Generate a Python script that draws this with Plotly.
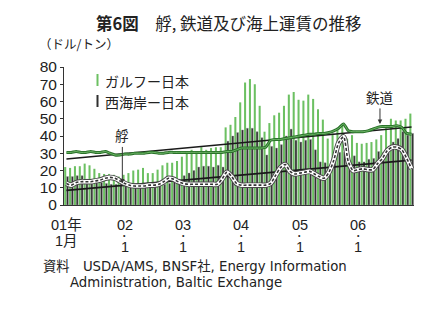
import plotly.graph_objects as go

# Monthly freight rates, Jan 2001 - Dec 2006 (USD/ton)
months = list(range(72))

gulf = [22, 21.5, 22.5, 22.5, 24, 23, 21, 18.5, 18, 18, 17.5, 16.5,
        17.5, 18.5, 20, 20.5, 21.5, 18.5, 18.5, 20.5, 23, 24.5, 24.5, 25.5,
        28, 30, 32, 31, 33.5, 32, 33, 33.5, 33.5, 45, 46.5, 51,
        59.5, 71, 73, 70, 57.5, 42.5, 47.5, 52, 53.5, 57.5, 64, 65.5,
        61, 60.5, 64, 61.5, 55.5, 49.5, 38.5, 41.5, 43.5, 46.5, 38.5, 40.5,
        36, 35.5, 36, 36.5, 38, 40.5, 44.5, 50, 49, 49, 50, 53]

west = [16.5, 16.5, 17, 17, 15, 14, 13.5, 13, 12.5, 12, 12, 12,
        11.5, 11.5, 11.5, 12, 12, 11.5, 11.5, 12, 12, 12.5, 14, 15,
        17, 18.5, 20, 22, 22.5, 22.5, 22, 23, 22, 37, 40, 42,
        43.5, 44.5, 44.5, 42.5, 39, 29, 34, 33, 35, 40, 44, 37.5,
        36.5, 37.5, 38, 32, 25, 24.5, 21.5, 25, 30.5, 30.5, 25, 28.5,
        25, 25, 26.5, 27, 31, 30.5, 32.5, 36.5, 38.5, 42.5, 40.5, 41.5]

rail = [30.5, 30.5, 31, 30.5, 30.5, 31, 30.5, 30.5, 31, 30, 29, 29,
        29.5, 29.5, 30, 30, 30, 30.5, 30.5, 30, 30, 30.5, 30.5, 30.5,
        30.5, 30.5, 30.5, 30.5, 30.5, 30.5, 30.5, 30.5, 30.5, 31, 31, 32,
        33, 33, 33, 33, 33, 33.5, 37.5, 38, 38, 38.5, 39, 39.5,
        40, 40.5, 41, 41, 41.5, 41.5, 42, 43, 44.5, 47, 43, 42.5,
        42.5, 42.5, 43, 44, 45, 45.5, 45.5, 45.5, 46, 45, 41.5, 41]

barge = [12.5, 11.5, 13, 13.5, 13.5, 13.5, 14, 14.5, 15.5, 16, 15.5, 14,
         12.5, 11.5, 11, 11, 11, 11.5, 11.5, 12, 13.5, 15.5, 15, 13.5,
         12.5, 12, 12, 12, 12, 12, 12, 12, 15, 19, 16.5, 12.5,
         11.5, 11.5, 11.5, 11.5, 11.5, 11.5, 12.5, 17, 21.5, 23.5, 19.5, 18,
         18.5, 19, 19.5, 18, 16.5, 15.5, 19, 26, 36, 39.5, 25, 20,
         20.5, 21, 20.5, 20.5, 24, 27, 31.5, 33.5, 33.5, 32, 27, 21]

# Linear trends (start / end of the period)
trend_x = [0, 71]
rail_trend = [26.7, 45.2]
barge_trend = [8.5, 26.0]

year_ticks = [0, 12, 24, 36, 48, 60]
year_labels = ["01年", "02", "03", "04", "05", "06"]

W, H = 426, 327
L, R, T, B = 64, 12, 67, 122
PW, PH = W - L - R, H - T - B

LAT = "Liberation Sans, Arial, Noto Sans CJK JP, sans-serif"
WIDE = "DejaVu Sans, Noto Sans CJK JP, sans-serif"
JP = "Noto Sans CJK JP, sans-serif"


def px(x):
    return (x - L) / PW


def py(y):
    return (T + PH - y) / PH


def label(x, y, text, size, family=JP, xanchor="left", xref="paper"):
    return dict(x=x, y=py(y), xref=xref, yref="paper", showarrow=False,
                xanchor=xanchor, yanchor="middle", text=text,
                font=dict(family=family, size=size, color="#222"))


fig = go.Figure()

fig.add_trace(go.Bar(x=months, y=gulf, name="ガルフー日本",
                     width=0.42, offset=-0.46,
                     marker=dict(color="#6cc062", line=dict(width=0))))
fig.add_trace(go.Bar(x=months, y=west, name="西海岸ー日本",
                     width=0.4, offset=0.02,
                     marker=dict(color="#2e2e2e", line=dict(color="#a0a0a0", width=0.4))))

# trend lines
fig.add_trace(go.Scatter(x=trend_x, y=rail_trend, mode="lines",
                         line=dict(color="#1a1a1a", width=1.5), hoverinfo="skip"))
fig.add_trace(go.Scatter(x=trend_x, y=barge_trend, mode="lines",
                         line=dict(color="#1a1a1a", width=1.6), hoverinfo="skip"))

# rail: dark green stroke with a lighter core
fig.add_trace(go.Scatter(x=months, y=rail, mode="lines",
                         line=dict(color="#2a722a", width=3.0, shape="spline", smoothing=0.6)))
fig.add_trace(go.Scatter(x=months, y=rail, mode="lines",
                         line=dict(color="#78c070", width=0.9, shape="spline", smoothing=0.6)))

# barge: outlined white band with dashed dark centre
fig.add_trace(go.Scatter(x=months, y=barge, mode="lines",
                         line=dict(color="#4a4a4a", width=5.5, shape="spline", smoothing=0.8)))
fig.add_trace(go.Scatter(x=months, y=barge, mode="lines",
                         line=dict(color="#ffffff", width=3.6, shape="spline", smoothing=0.8)))
fig.add_trace(go.Scatter(x=months, y=barge, mode="lines",
                         line=dict(color="#333333", width=1.6, dash="3px,2px",
                                   shape="spline", smoothing=0.8)))

ann = []
shapes = []

# title and unit
ann.append(label(px(229), 23, "<b>第6図</b>　艀, 鉄道及び海上運賃の推移", 16.5, xanchor="center"))
ann.append(label(px(37), 44, "（ドル/トン）", 12.5))

# legend
shapes.append(dict(type="rect", xref="paper", yref="paper",
                   x0=px(96.5), x1=px(98.5), y0=py(86), y1=py(74),
                   fillcolor="#6cc062", line=dict(width=0)))
shapes.append(dict(type="rect", xref="paper", yref="paper",
                   x0=px(96.5), x1=px(98.5), y0=py(107), y1=py(95),
                   fillcolor="#2e2e2e", line=dict(width=0)))
ann.append(label(px(103), 80.5, "ガルフー日本", 14))
ann.append(label(px(103), 101.5, "西海岸ー日本", 14))

# callouts
ann.append(dict(x=11.5, y=barge[11] - 1.5, xref="x", yref="y", text="艀",
                showarrow=True, ax=0, ay=-48, arrowhead=2, arrowsize=0.9,
                arrowwidth=1, arrowcolor="#333",
                font=dict(family=JP, size=13.5, color="#222")))
ann.append(dict(x=64.5, y=47.0, xref="x", yref="y", text="鉄道",
                showarrow=True, ax=0, ay=-27, arrowhead=2, arrowsize=0.9,
                arrowwidth=1, arrowcolor="#333",
                font=dict(family=JP, size=13.5, color="#222")))

# x labels: year on top, month below
for k, (xv, lab) in enumerate(zip(year_ticks, year_labels)):
    ann.append(label(xv, 225, lab, 14.5, family=LAT, xanchor="center", xref="x"))
    if k == 0:
        ann.append(label(xv, 241, "1月", 14.5, family=LAT, xanchor="center", xref="x"))
    else:
        ann.append(label(xv, 235, "•", 7, family=LAT, xanchor="center", xref="x"))
        ann.append(label(xv, 247, "1", 14.5, family=LAT, xanchor="center", xref="x"))

# source note
ann.append(label(px(41), 266.5, "資料　USDA/AMS, BNSF社, Energy Information", 13.3, family=WIDE))
ann.append(label(px(68), 282.5, "Administration, Baltic Exchange", 13.3, family=WIDE))

fig.update_layout(
    width=W, height=H,
    margin=dict(l=L, r=R, t=T, b=B, pad=0),
    paper_bgcolor="white", plot_bgcolor="white",
    showlegend=False,
    barmode="overlay",
    annotations=ann, shapes=shapes,
    xaxis=dict(range=[-0.5, 71.5], showticklabels=False, ticks="",
               showgrid=False, zeroline=False, showline=True,
               linecolor="#333", linewidth=1),
    yaxis=dict(range=[0, 80], dtick=10, showgrid=False, zeroline=False,
               showline=True, linecolor="#333", linewidth=1,
               ticks="outside", ticklen=3, tickcolor="#333",
               tickfont=dict(family=LAT, size=15.5, color="#222")),
)

fig.write_html("out.html")
